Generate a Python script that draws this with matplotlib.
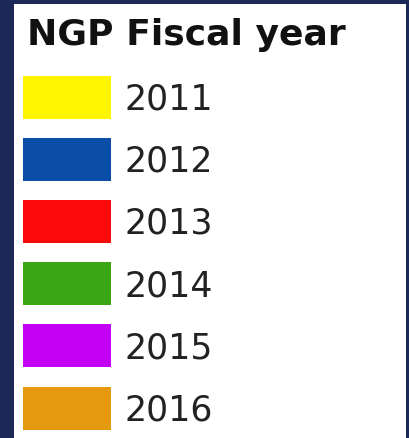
import matplotlib.pyplot as plt
from matplotlib.patches import Rectangle

# legend data
title = "NGP Fiscal year"
years = ["2011", "2012", "2013", "2014", "2015", "2016"]
colors = ["#fdf600", "#0b4ea8", "#fa0a0a", "#3aa515", "#c300f4", "#e5990f"]

fig = plt.figure(figsize=(4.10, 4.38), dpi=100)
fig.patch.set_facecolor("#1b2858")
ax = fig.add_axes([0, 0, 1, 1])
ax.set_xlim(0, 410)
ax.set_ylim(438, 0)
ax.axis("off")

# white legend box
ax.add_patch(Rectangle((14, 4), 392, 440, facecolor="white", edgecolor="none"))

ax.text(27, 45, title, fontsize=26, fontweight="bold", family="DejaVu Sans",
        color="#111111", va="baseline", ha="left")

# swatches + labels
for i, (yr, c) in enumerate(zip(years, colors)):
    yc = 97 + i * 62.2
    ax.add_patch(Rectangle((23, yc - 21.5), 88, 43, facecolor=c, edgecolor="none"))
    ax.text(125, yc + 12.5, yr, fontsize=25, family="DejaVu Sans",
            color="#222222", va="baseline", ha="left")

fig.savefig("out.png", dpi=100, facecolor=fig.get_facecolor())
